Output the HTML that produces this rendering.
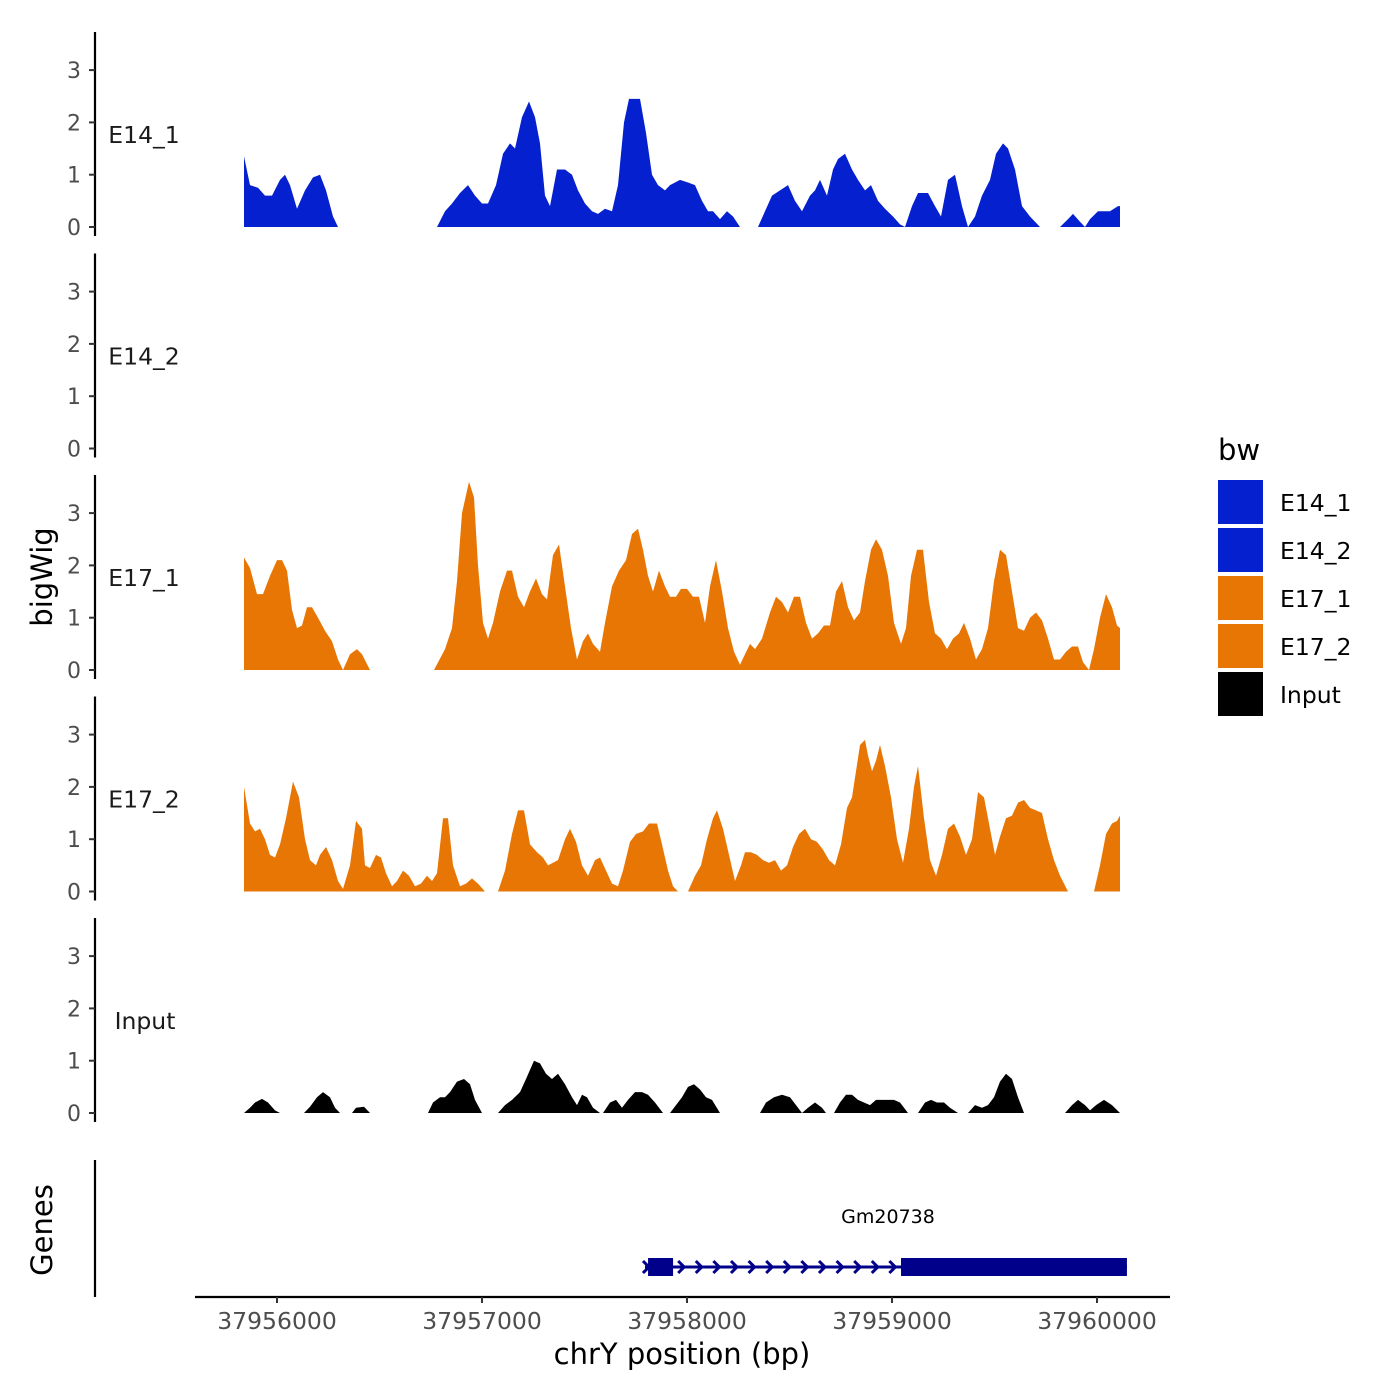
<!DOCTYPE html>
<html><head><meta charset="utf-8"><style>
html,body{margin:0;padding:0;background:#fff}
svg{display:block}
text{font-family:"DejaVu Sans","Liberation Sans",sans-serif}
</style></head><body>
<svg id="chart" width="1400" height="1400" viewBox="0 0 1400 1400"></svg>
<script>
// position offsets (track units) ; null = gap
const posE141=[-245,-215,-175,-140,-105,-65,-40,-15,20,60,100,135,165,200,225,null,720,760,795,835,875,910,945,975,1015,1050,1085,1110,1145,1180,1210,1235,1260,1285,1320,1360,1395,1425,1460,1495,1525,1560,1595,1625,1655,1680,1735,1765,1795,1825,1860,1885,1935,1975,2010,2045,2075,2100,2135,2170,2200,2235,null,2325,2360,2395,2435,2475,2510,2545,2585,2610,2635,2670,2700,2725,2760,2795,2825,2860,2890,2925,2960,3000,3035,3060,3095,3125,3175,3210,3240,3275,3310,3345,3375,3410,3445,3485,3515,3550,3575,3610,3645,3685,3735,null,3835,3875,3900,3935,3960,3985,4025,4085,4125,4135];
const valE141=[1.35,0.8,0.75,0.6,0.6,0.9,1.0,0.8,0.35,0.7,0.95,1.0,0.7,0.2,0,null,0,0.3,0.45,0.65,0.8,0.6,0.45,0.45,0.8,1.4,1.6,1.5,2.1,2.4,2.1,1.6,0.6,0.4,1.1,1.1,1.0,0.7,0.45,0.3,0.25,0.35,0.3,0.8,2.0,2.45,2.45,1.8,1.0,0.8,0.7,0.8,0.9,0.85,0.8,0.5,0.3,0.3,0.15,0.3,0.2,0,null,0,0.3,0.6,0.7,0.8,0.5,0.3,0.6,0.7,0.9,0.6,1.1,1.3,1.4,1.1,0.9,0.7,0.8,0.5,0.35,0.2,0.05,0,0.4,0.65,0.65,0.4,0.2,0.9,1.0,0.4,0,0.2,0.6,0.9,1.4,1.6,1.5,1.1,0.4,0.2,0,null,0,0.15,0.25,0.1,0,0.15,0.3,0.3,0.4,0.4];
const posE142=[];
const valE142=[];
const posE171=[-245,-215,-180,-150,-115,-80,-55,-30,-5,20,45,70,95,125,160,195,225,250,285,320,345,385,null,705,760,795,820,845,880,905,925,950,975,1000,1035,1070,1095,1125,1155,1185,1215,1245,1270,1300,1330,1360,1390,1420,1450,1475,1500,1535,1560,1595,1630,1665,1695,1725,1750,1775,1800,1830,1860,1885,1915,1940,1970,2000,2030,2060,2085,2115,2145,2175,2205,2235,2260,2285,2310,2345,2385,2415,2445,2475,2505,2535,2565,2595,2625,2655,2685,2715,2745,2775,2805,2835,2860,2890,2915,2945,2975,3005,3040,3065,3090,3120,3150,3180,3210,3240,3270,3300,3330,3355,3385,3415,3445,3475,3505,3535,3565,3595,3625,3655,3685,3715,3745,3775,3805,3835,3865,3895,3925,3950,3980,4005,4035,4065,4095,4120,4135];
const valE171=[2.15,1.95,1.45,1.45,1.8,2.1,2.1,1.9,1.15,0.8,0.85,1.2,1.2,1.0,0.75,0.55,0.2,0,0.3,0.4,0.3,0,null,0,0.4,0.8,1.7,3.0,3.6,3.3,2.0,0.9,0.6,0.9,1.5,1.9,1.9,1.4,1.2,1.5,1.75,1.45,1.35,2.2,2.4,1.6,0.8,0.2,0.55,0.7,0.5,0.35,0.9,1.6,1.9,2.1,2.6,2.7,2.3,1.8,1.5,1.9,1.6,1.4,1.4,1.55,1.55,1.4,1.4,0.9,1.6,2.1,1.5,0.8,0.35,0.1,0.3,0.5,0.4,0.6,1.1,1.4,1.3,1.1,1.4,1.4,0.9,0.6,0.7,0.85,0.85,1.5,1.7,1.2,0.95,1.1,1.7,2.3,2.5,2.3,1.8,0.9,0.5,0.8,1.8,2.3,2.3,1.3,0.7,0.6,0.4,0.6,0.7,0.9,0.6,0.2,0.4,0.8,1.7,2.3,2.2,1.5,0.8,0.75,1.0,1.1,0.95,0.6,0.2,0.2,0.35,0.45,0.45,0.15,0,0.4,1.0,1.45,1.2,0.85,0.8];
const posE172=[-245,-215,-190,-165,-140,-115,-90,-65,-35,0,30,60,85,115,135,165,195,225,250,285,315,345,360,385,415,440,465,495,520,550,580,610,640,670,695,720,750,775,800,835,865,895,925,960,null,1025,1060,1095,1125,1155,1185,1220,1250,1275,1300,1325,1360,1385,1415,1445,1475,1510,1535,1565,1595,1625,1650,1685,1715,1750,1780,1820,1845,1875,1900,1925,null,1975,2010,2040,2070,2100,2120,2150,2180,2210,2240,2260,2290,2320,2350,2380,2410,2440,2470,2500,2530,2560,2590,2620,2650,2680,2710,2740,2770,2795,2815,2835,2860,2875,2895,2915,2935,2960,2990,3020,3050,3080,3105,3125,3155,3185,3215,3245,3275,3305,3335,3365,3395,3425,3455,3485,3510,3535,3565,3595,3625,3655,3685,3715,3745,3775,3805,3835,3875,null,4005,4035,4065,4095,4120,4135];
const valE172=[2.0,1.3,1.15,1.2,1.0,0.7,0.65,0.9,1.4,2.1,1.8,1.0,0.6,0.5,0.7,0.85,0.6,0.2,0.05,0.5,1.35,1.2,0.5,0.45,0.7,0.65,0.35,0.1,0.2,0.4,0.3,0.1,0.15,0.3,0.2,0.35,1.4,1.4,0.5,0.1,0.15,0.25,0.15,0,null,0,0.4,1.1,1.55,1.55,0.9,0.75,0.65,0.5,0.55,0.6,1.0,1.2,0.95,0.5,0.3,0.6,0.65,0.4,0.15,0.1,0.4,0.95,1.1,1.15,1.3,1.3,0.9,0.4,0.1,0,null,0,0.3,0.5,1.0,1.4,1.55,1.2,0.7,0.2,0.5,0.75,0.75,0.7,0.6,0.55,0.6,0.4,0.5,0.85,1.1,1.2,1.0,0.95,0.8,0.6,0.5,0.9,1.6,1.8,2.3,2.8,2.9,2.6,2.3,2.5,2.8,2.4,1.8,1.0,0.55,1.2,2.0,2.4,1.4,0.6,0.3,0.7,1.2,1.3,1.05,0.7,1.0,1.9,1.8,1.2,0.7,1.05,1.4,1.45,1.7,1.75,1.6,1.55,1.5,1.0,0.6,0.3,0,null,0,0.5,1.1,1.3,1.35,1.45];
const posInput=[-245,-215,-190,-155,-125,-90,-65,null,55,85,120,150,185,210,235,null,295,315,355,385,null,675,700,735,760,785,820,855,885,910,945,null,1025,1060,1095,1135,1165,1205,1235,1265,1295,1325,1360,1395,1420,1445,1470,1500,1535,null,1550,1585,1615,1645,1675,1710,1745,1775,1810,1850,null,1885,1915,1945,1975,2005,2035,2065,2095,2135,null,2335,2365,2405,2445,2485,2515,2545,2575,2610,2645,2665,null,2705,2735,2765,2795,2825,2855,2885,2915,2955,3005,3035,3075,null,3125,3160,3190,3220,3255,3285,3325,null,3375,3410,3445,3475,3505,3535,3565,3595,3625,3655,null,3860,3895,3925,3960,3985,4015,4055,4095,4135];
const valInput=[0,0.1,0.2,0.27,0.2,0.05,0,null,0,0.12,0.3,0.4,0.3,0.1,0,null,0,0.1,0.12,0,null,0,0.2,0.3,0.3,0.4,0.6,0.65,0.55,0.25,0,null,0,0.15,0.25,0.4,0.65,1.0,0.95,0.75,0.65,0.75,0.55,0.3,0.15,0.35,0.3,0.1,0,null,0,0.2,0.25,0.1,0.25,0.4,0.4,0.35,0.2,0,null,0,0.15,0.3,0.5,0.55,0.45,0.3,0.25,0,null,0,0.2,0.3,0.35,0.3,0.15,0,0.1,0.2,0.1,0,null,0,0.2,0.35,0.35,0.25,0.2,0.15,0.25,0.25,0.25,0.2,0,null,0,0.2,0.25,0.2,0.2,0.1,0,null,0,0.15,0.1,0.15,0.3,0.6,0.75,0.65,0.3,0,null,0,0.15,0.25,0.15,0.05,0.15,0.25,0.15,0];
const trackNames=["E14_1","E14_2","E17_1","E17_2","Input"];
const trackColors=["#0520CF","#0520CF","#E87604","#E87604","#000000"];
const yTicks=[0,1,2,3];
const xTicks=[37956000,37957000,37958000,37959000,37960000];
const geneName="Gm20738";
const geneStart=37957795, geneEnd=37960146;
const exonStarts=[37957810,37959044];
const exonEnds=[37957932,37960146];

const NS="http://www.w3.org/2000/svg";
const svg=document.getElementById('chart');
function mk(tag,attrs,parent){const e=document.createElementNS(NS,tag);for(const k in attrs)e.setAttribute(k,attrs[k]);(parent||svg).appendChild(e);return e;}
const xs=bp=>277+(bp-37956000)*0.205;
const xo=off=>293+off*0.2;
const base=k=>227+k*221.5;
const ys=(v,k)=>base(k)-v*52.3;

const series=[[posE141,valE141],[posE142,valE142],[posE171,valE171],[posE172,valE172],[posInput,valInput]];
series.forEach((s,k)=>{
  const g=mk('g',{});
  
  
  const ax=mk('line',{x1:95,x2:95,y1:32+k*221.5,y2:236+k*221.5,stroke:'#000','stroke-width':2.2},g);
  
  
  yTicks.forEach(t=>{
    const y=ys(t,k);
    const tk=mk('line',{x1:89,x2:95,y1:y,y2:y,stroke:'#333','stroke-width':2},g);
    
    
    const tl=mk('text',{x:81,y:y+8,'text-anchor':'end','font-size':22,fill:'#4d4d4d'},g);
    tl.textContent=t;
    
    
  });
  const lab=mk('text',{x:trackNames[k]==='Input'?145:144,y:base(k)-84,'text-anchor':'middle','font-size':23.5,fill:'#1a1a1a'},g);
  lab.textContent=trackNames[k];
  
  
  const [pos,val]=s;
  let seg=[];
  const flush=()=>{
    if(seg.length<2){seg=[];return;}
    let d='M'+xo(seg[0][0])+','+base(k);
    seg.forEach(p=>{d+='L'+xo(p[0])+','+ys(p[1],k);});
    d+='L'+xo(seg[seg.length-1][0])+','+base(k)+'Z';
    const a=mk('path',{d:d,fill:trackColors[k]},g);
    
    
    seg=[];
  };
  for(let i=0;i<pos.length;i++){ if(pos[i]===null){flush();} else seg.push([pos[i],val[i]]); }
  flush();
});

const gAx=mk('line',{x1:95,x2:95,y1:1160,y2:1297,stroke:'#000','stroke-width':2.2});


const gg=mk('g',{});


const gy=1267;
mk('line',{x1:xs(geneStart),x2:xs(geneEnd),y1:gy,y2:gy,stroke:'#00008B','stroke-width':3},gg);
for(let cx=xs(geneStart)+1;cx<xs(exonStarts[1])-4;cx+=17.6){
  mk('polyline',{points:(cx-3)+','+(gy-6)+' '+(cx+3)+','+gy+' '+(cx-3)+','+(gy+6),fill:'none',stroke:'#00008B','stroke-width':3},gg);
}
exonStarts.forEach((s,i)=>{
  const r=mk('rect',{x:xs(s),y:gy-9,width:xs(exonEnds[i])-xs(s),height:18,fill:'#00008B'},gg);
  
  
});
const gl=mk('text',{x:888,y:1223,'text-anchor':'middle','font-size':19,fill:'#000'},gg);
gl.textContent=geneName;



const xl=mk('line',{x1:195,x2:1170,y1:1297,y2:1297,stroke:'#000','stroke-width':2.2});


xTicks.forEach(t=>{
  const x=xs(t);
  const tk=mk('line',{x1:x,x2:x,y1:1297,y2:1303,stroke:'#333','stroke-width':2});
  
  
  const tl=mk('text',{x:x,y:1329,'text-anchor':'middle','font-size':23.5,fill:'#4d4d4d'});
  tl.textContent=t;
  
  
});
const xt=mk('text',{x:682,y:1364,'text-anchor':'middle','font-size':29,fill:'#000'});
xt.textContent='chrY position (bp)';


const yt=mk('text',{x:52,y:577,'text-anchor':'middle','font-size':29,fill:'#000',transform:'rotate(-90 52 577)'});
yt.textContent='bigWig';


const gt=mk('text',{x:52,y:1230,'text-anchor':'middle','font-size':29,fill:'#000',transform:'rotate(-90 52 1230)'});
gt.textContent='Genes';



const lg=mk('g',{});


const lt=mk('text',{x:1218,y:460,'font-size':29,fill:'#000'},lg);
lt.textContent='bw';


trackNames.forEach((n,i)=>{
  const y=480+i*48;
  const r=mk('rect',{x:1218,y:y,width:45,height:44,fill:trackColors[i]},lg);
  
  
  const t=mk('text',{x:1280,y:y+31,'font-size':23.5,fill:'#000'},lg);
  t.textContent=n;
  
  
});
</script>
</body></html>
